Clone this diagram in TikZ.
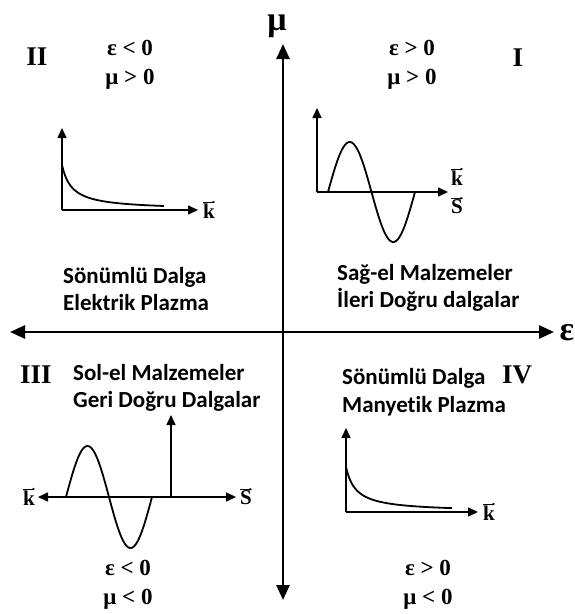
\documentclass[tikz,border=0pt]{standalone}
\usepackage{amsmath}
\usepackage{fontspec}
\setmainfont{Liberation Serif}
\newfontfamily\calibfont[Ligatures=CommonOff]{Carlito}
\usetikzlibrary{arrows.meta,positioning}

\begin{document}
\begin{tikzpicture}[x=1pt, y=-1pt,
    axis/.style={line width=2.6pt, arrows={Triangle[length=15pt,width=13pt]-Triangle[length=15pt,width=13pt]}},
    small/.style={line width=1.6pt, -{Triangle[length=10pt,width=9pt]}},
    curve/.style={line width=1.8pt},
    vecarrow/.style={line width=0.7pt, -{Triangle[length=2.5pt,width=2.5pt]}},
    axlbl/.style={font=\bfseries\fontsize{34}{36}\selectfont, inner sep=0pt},
    roman/.style={font=\bfseries\fontsize{27}{30}\selectfont, inner sep=0pt},
    cond/.style={font=\bfseries\fontsize{23}{29}\selectfont, align=center, inner sep=0pt},
    vec/.style={font=\bfseries\fontsize{21}{22}\selectfont, inner sep=0pt},
    label/.style={font=\calibfont\bfseries\fontsize{23}{27.5}\selectfont, align=left, inner sep=0pt, anchor=west}]
    \useasboundingbox (0,0) rectangle (575,614);

    % main axes
    \coordinate (epsL) at (10,332);
    \coordinate (epsR) at (554,332);
    \coordinate (muT) at (283,44);
    \coordinate (muB) at (283,600);
    \draw[axis] (epsL) -- (epsR);
    \draw[axis] (muB) -- (muT);
    \node[axlbl] (muLbl) at (277,26) {μ};
    \node[axlbl] (epsLbl) at (567,333) {ε};

    % quadrant numbers
    \node[roman] (qII) at (37,57) {II};
    \node[roman] (qI) at (518,58) {I};
    \node[roman] (qIII) at (36,375) {III};
    \node[roman] (qIV) at (517,375) {IV};

    % signs of eps and mu
    \node[cond] (condII) at (130,65) {ε < 0\\μ > 0};
    \node[cond] (condI) at (412,65) {ε > 0\\μ > 0};
    \node[cond] (condIII) at (128,585) {ε < 0\\μ < 0};
    \node[cond] (condIV) at (428,585) {ε > 0\\μ < 0};

    % quadrant II: decaying wave
    \coordinate (oII) at (62,210);
    \coordinate (yII) at (62,128);
    \coordinate (xII) at (198,210);
    \draw[small] (oII) -- (yII);
    \draw[small] (oII) -- (xII);
    \draw[curve] plot[domain=0:102, samples=60] ({62+\x}, {210-45*10/(\x+10)});
    \node[vec, right=5pt of xII, yshift=-1pt] (kII) {k};

    % quadrant I: forward wave
    \coordinate (oI) at (317,192);
    \coordinate (yI) at (317,108);
    \coordinate (xI) at (448,192);
    \draw[small] (oI) -- (yI);
    \draw[small] (oI) -- (xI);
    \draw[curve] plot[domain=0:87, samples=80] ({328+\x}, {192-50*sin(\x/87*360)});
    \node[vec, anchor=west] (kI) at (451,178) {k};
    \node[vec, anchor=west] (sI) at (451,207) {S};

    % quadrant III: backward wave
    \coordinate (oIII) at (171,497);
    \coordinate (yIII) at (171,415);
    \coordinate (xlIII) at (38,497);
    \coordinate (xrIII) at (236,497);
    \draw[small] (oIII) -- (yIII);
    \draw[small] (oIII) -- (xlIII);
    \draw[small] (oIII) -- (xrIII);
    \draw[curve] plot[domain=0:86, samples=80] ({66+\x}, {497-51*sin(\x/86*360)});
    \node[vec, left=3pt of xlIII, yshift=-1pt] (kIII) {k};
    \node[vec, right=4pt of xrIII, yshift=-1pt] (sIII) {S};

    % quadrant IV: decaying wave
    \coordinate (oIV) at (346,512);
    \coordinate (yIV) at (346,428);
    \coordinate (xIV) at (478,512);
    \draw[small] (oIV) -- (yIV);
    \draw[small] (oIV) -- (xIV);
    \draw[curve] plot[domain=0:106, samples=60] ({346+\x}, {512-45*10/(\x+10)});
    \node[vec, right=5pt of xIV, yshift=-1pt] (kIV) {k};

    % vector arrows over k and S
    \foreach \v in {kII,kI,sI,kIII,sIII,kIV}
        \draw[vecarrow] ([yshift=1.5pt]\v.north west) -- ([yshift=1.5pt]\v.north east);

    % descriptions
    \node[label] (txtII) at (63,289) {Sönümlü Dalga\\Elektrik Plazma};
    \node[label] (txtI) at (337,288) {Sağ-el Malzemeler\\İleri Doğru dalgalar};
    \node[label] (txtIII) at (73,388) {Sol-el Malzemeler\\Geri Doğru Dalgalar};
    \node[label] (txtIV) at (342,392) {Sönümlü Dalga\\Manyetik Plazma};
\end{tikzpicture}
\end{document}
